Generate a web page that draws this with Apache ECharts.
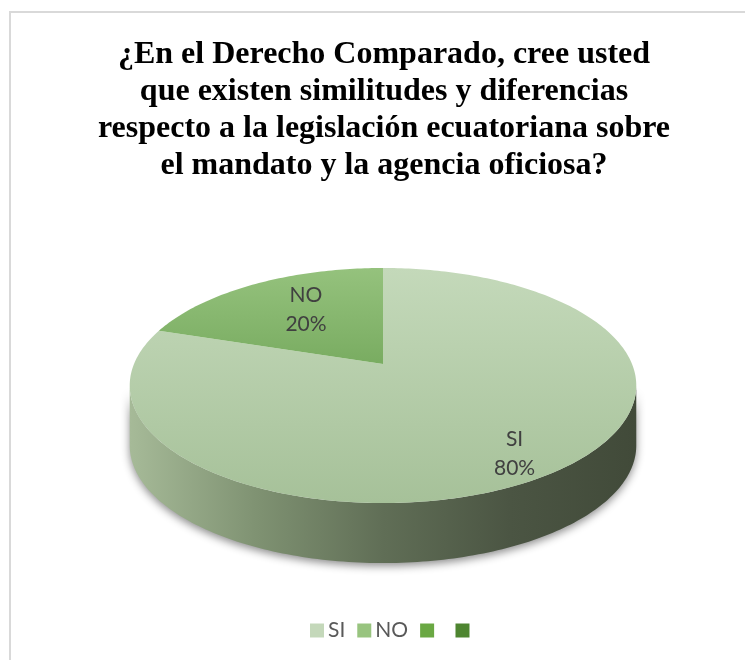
<!DOCTYPE html>
<html>
<head>
<meta charset="utf-8">
<script src="https://cdn.jsdelivr.net/npm/echarts@6/dist/echarts.min.js"></script>
<style>
html,body{margin:0;padding:0;background:#fff;}
#chart{width:745px;height:660px;}
</style>
</head>
<body>
<div id="chart"></div>
<script>
// ---- data ----
const titleLines = [
  '¿En el Derecho Comparado, cree usted',
  'que existen similitudes y diferencias',
  'respecto a la legislación ecuatoriana sobre',
  'el mandato y la agencia oficiosa?'
];
const categories = ['SI', 'NO', ' ', '  '];
const values = [80, 20, null, null];

// ---- style / layout ----
const legendColors = ['#c4d8ba', '#98c47f', '#6aa843', '#4e8530'];
const topGradients = [
  ['#c4d9ba', '#a6c199'],
  ['#95c27d', '#79ac61']
];
const CX = 383, CY = 364;     // apex of pie on screen
const A = 249, B = 113.6;     // projected radii
const K = 0.183;              // perspective factor
const T = 60;                 // thickness

function proj(theta, r, h) {
  const s = r * Math.sin(theta), c = r * Math.cos(theta);
  const w = 1 - K * s;
  return [CX + A * c / w, CY + B * s / w + (h || 0)];
}

const total = values.reduce((a, v) => a + (v == null ? 0 : v), 0);

function makeRenderer(idx) {
  return function (params, api) {
    const v = api.value(0);
    if (v == null || isNaN(v) || v <= 0) return null;
    let before = 0;
    for (let i = 0; i < idx; i++) before += (values[i] == null ? 0 : values[i]);
    const t1 = -Math.PI / 2 + before / total * Math.PI * 2;
    const t2 = t1 + v / total * Math.PI * 2;
    const children = [];

    // side (visible front part)
    const ta = Math.asin(K), tb = Math.PI - Math.asin(K);
    for (let n = -1; n <= 1; n++) {
      const a1 = Math.max(t1, ta + 2 * Math.PI * n);
      const a2 = Math.min(t2, tb + 2 * Math.PI * n);
      if (a2 > a1) {
        const pts = [];
        const steps = Math.max(4, Math.ceil((a2 - a1) / (Math.PI / 180)));
        for (let j = 0; j <= steps; j++) pts.push(proj(a1 + (a2 - a1) * j / steps, 1, 0));
        for (let j = steps; j >= 0; j--) pts.push(proj(a1 + (a2 - a1) * j / steps, 1, T));
        children.push({
          type: 'polygon',
          z2: 1,
          shape: { points: pts },
          style: {
            fill: new echarts.graphic.LinearGradient(130, 0, 637, 0, [
              { offset: 0, color: '#a6ba98' },
              { offset: 0.25, color: '#7f9272' },
              { offset: 0.5, color: '#606e56' },
              { offset: 0.75, color: '#4b5543' },
              { offset: 1, color: '#414a39' }
            ], true),
            shadowBlur: 8,
            shadowColor: 'rgba(0,0,0,0.45)',
            shadowOffsetY: 3
          }
        });
      }
    }

    // top face
    const topPts = [[CX, CY]];
    const steps = Math.max(4, Math.ceil((t2 - t1) / (Math.PI / 180)));
    for (let j = 0; j <= steps; j++) topPts.push(proj(t1 + (t2 - t1) * j / steps, 1, 0));
    let ys = topPts.map(p => p[1]);
    const y0 = Math.min.apply(null, ys), y1 = Math.max.apply(null, ys);
    const g = topGradients[idx] || [legendColors[idx], legendColors[idx]];
    children.push({
      type: 'polygon',
      z2: 10,
      shape: { points: topPts },
      style: {
        fill: new echarts.graphic.LinearGradient(0, y0, 0, y1, [
          { offset: 0, color: g[0] },
          { offset: 1, color: g[1] }
        ], true)
      }
    });

    // label
    const p = v / total;
    const mid = (t1 + t2) / 2;
    const rim = proj(mid, 1, 0);
    const f = 0.55 + 0.27 * p;
    const lx = CX + f * (rim[0] - CX);
    const ly = CY + (f + 0.07) * (rim[1] - CY);
    children.push({
      type: 'text',
      z2: 20,
      style: {
        text: categories[idx] + '\n' + Math.round(p * 100) + '%',
        x: lx, y: ly,
        align: 'center', verticalAlign: 'middle',
        fill: '#404040',
        font: '21px Lato',
        lineHeight: 29
      }
    });
    return { type: 'group', children: children };
  };
}

const series = categories.map((name, i) => ({
  type: 'custom',
  name: name,
  coordinateSystem: 'none',
  itemStyle: { color: legendColors[i] },
  data: values[i] == null ? [] : [[values[i]]],
  renderItem: makeRenderer(i),
  silent: true
}));

const chart = echarts.init(document.getElementById('chart'), null, { renderer: 'canvas' });
chart.setOption({
  backgroundColor: '#ffffff',
  animation: false,
  title: {
    text: titleLines.join('\n'),
    left: 379,
    top: 31,
    textAlign: 'center',
    textStyle: {
      fontFamily: 'Liberation Serif',
      fontWeight: 'bold',
      fontSize: 32,
      lineHeight: 37,
      color: '#000000'
    }
  },
  legend: {
    data: categories,
    left: 305,
    top: 615,
    icon: 'rect',
    itemWidth: 14,
    itemHeight: 14,
    itemGap: 12,
    selectedMode: false,
    textStyle: { fontFamily: 'Lato', fontSize: 21, color: '#595959', padding: [0, 0, 0, -1] }
  },
  graphic: [{
    type: 'rect',
    z: -1,
    shape: { x: 10, y: 12, width: 800, height: 700 },
    style: { fill: 'none', stroke: '#d9d9d9', lineWidth: 2 }
  }],
  series: series
});
</script>
</body>
</html>
